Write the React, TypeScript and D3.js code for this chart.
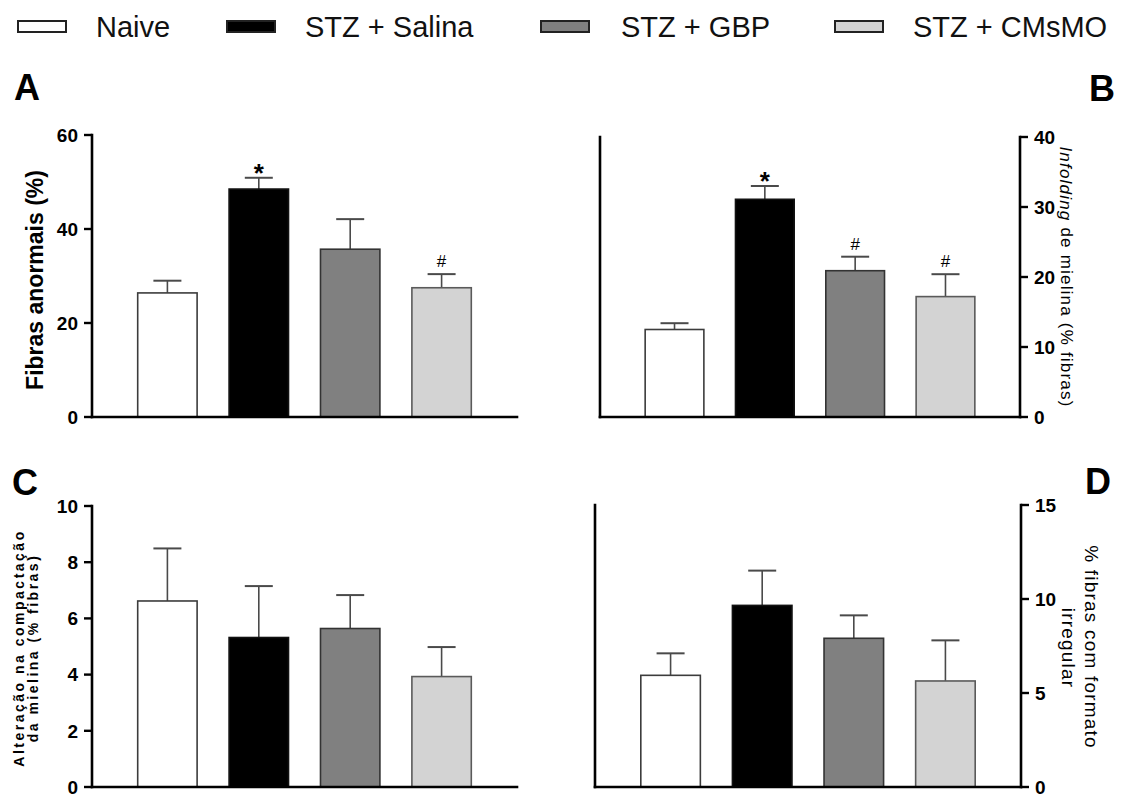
import * as d3 from "d3";

// groups and their colours
const groups = ["Naive", "STZ + Salina", "STZ + GBP", "STZ + CMsMO"];
const fills = ["#ffffff", "#000000", "#808080", "#d3d3d3"];
const strokes = ["#3c3c3c", "#111111", "#333333", "#5a5a5a"];

// panel A - Fibras anormais (%)
const meanA = [26.4, 48.5, 35.7, 27.5];
const semA = [2.6, 2.4, 6.4, 2.9];
const marksA = ["", "*", "", "#"];
const ticksA = [0, 20, 40, 60];

// panel B - Infolding de mielina (% fibras)
const meanB = [12.5, 31.1, 20.9, 17.2];
const semB = [0.9, 1.9, 2.0, 3.2];
const marksB = ["", "*", "#", "#"];
const ticksB = [0, 10, 20, 30, 40];

// panel C - Alteração na compactação da mielina (% fibras)
const meanC = [6.62, 5.32, 5.64, 3.93];
const semC = [1.87, 1.83, 1.19, 1.05];
const marksC = ["", "", "", ""];
const ticksC = [0, 2, 4, 6, 8, 10];

// panel D - % fibras com formato irregular
const meanD = [5.94, 9.66, 7.91, 5.64];
const semD = [1.17, 1.85, 1.22, 2.16];
const marksD = ["", "", "", ""];
const ticksD = [0, 5, 10, 15];

const FONT = "'Liberation Sans', Arial, Helvetica, sans-serif";

// legend layout (swatch x, text x)
const legendSwatchX = [18, 227, 541, 835];
const legendTextX = [96, 305, 621, 913];

type PanelProps = {
  x0: number;
  x1: number;
  yTop: number;
  yBottom: number;
  ticks: number[];
  means: number[];
  sems: number[];
  marks: string[];
  side: "left" | "right";
};

function Panel({ x0, x1, yTop, yBottom, ticks, means, sems, marks, side }: PanelProps) {
  const x = d3
    .scaleBand<string>()
    .domain(groups)
    .range([x0, x1])
    .paddingInner(0.35)
    .paddingOuter(0.5);
  const y = d3
    .scaleLinear()
    .domain([0, d3.max(ticks)!])
    .range([yBottom, yTop]);

  const axisX = side === "left" ? x0 : x1;
  const dir = side === "left" ? -1 : 1;

  return (
    <g>
      {groups.map((g, i) => {
        const bx = x(g)!;
        const bw = x.bandwidth();
        const cx = bx + bw / 2;
        const top = y(means[i]);
        const errTop = y(means[i] + sems[i]);
        const mark = marks[i];
        return (
          <g key={g}>
            <line x1={cx} x2={cx} y1={top} y2={errTop} stroke="#4a4a4a" strokeWidth={1.6} />
            <line x1={cx - 14} x2={cx + 14} y1={errTop} y2={errTop} stroke="#4a4a4a" strokeWidth={2} />
            <rect
              x={bx}
              y={top}
              width={bw}
              height={yBottom - top}
              fill={fills[i]}
              stroke={strokes[i]}
              strokeWidth={1.6}
            />
            {mark === "*" && (
              <text x={cx} y={errTop + 4} textAnchor="middle" fontSize={26} fontWeight="bold" fontFamily={FONT}>
                *
              </text>
            )}
            {mark === "#" && (
              <text x={cx} y={errTop - 7} textAnchor="middle" fontSize={17} fontFamily={FONT}>
                #
              </text>
            )}
          </g>
        );
      })}

      {/* axes */}
      <line x1={x0} x2={x1} y1={yBottom} y2={yBottom} stroke="#000" strokeWidth={2.6} strokeLinecap="square" />
      <line x1={axisX} x2={axisX} y1={yTop} y2={yBottom} stroke="#000" strokeWidth={2.6} strokeLinecap="square" />
      {side === "right" && (
        <line x1={x0} x2={x0} y1={yTop} y2={yBottom} stroke="#000" strokeWidth={2.6} strokeLinecap="square" />
      )}
      {ticks.map((t) => (
        <g key={t}>
          <line x1={axisX} x2={axisX + dir * 8} y1={y(t)} y2={y(t)} stroke="#000" strokeWidth={2.4} />
          <text
            x={axisX + dir * 14}
            y={y(t)}
            dy="0.36em"
            textAnchor={side === "left" ? "end" : "start"}
            fontSize={19}
            fontWeight="bold"
            fontFamily={FONT}
          >
            {t}
          </text>
        </g>
      ))}
    </g>
  );
}

export default function App() {
  return (
    <svg width={1124} height={796} style={{ position: "absolute", left: 0, top: 0, background: "#fff" }}>
      {/* legend */}
      {groups.map((g, i) => (
        <g key={g}>
          <rect x={legendSwatchX[i]} y={21} width={48} height={11} fill={fills[i]} stroke="#222" strokeWidth={2} />
          <text x={legendTextX[i]} y={37} fontSize={29} fontFamily={FONT} fill="#111">
            {g}
          </text>
        </g>
      ))}

      {/* panel letters */}
      <g fontFamily={FONT} fontWeight="bold" fontSize={36}>
        <text x={14} y={100}>A</text>
        <text x={1089} y={101}>B</text>
        <text x={12} y={495}>C</text>
        <text x={1085} y={494}>D</text>
      </g>

      <Panel x0={92} x1={517} yTop={135} yBottom={417} ticks={ticksA} means={meanA} sems={semA} marks={marksA} side="left" />
      <Panel x0={600} x1={1020} yTop={137} yBottom={417} ticks={ticksB} means={meanB} sems={semB} marks={marksB} side="right" />
      <Panel x0={92} x1={517} yTop={506} yBottom={787} ticks={ticksC} means={meanC} sems={semC} marks={marksC} side="left" />
      <Panel x0={595} x1={1021} yTop={505} yBottom={787} ticks={ticksD} means={meanD} sems={semD} marks={marksD} side="right" />

      {/* y axis labels */}
      <text
        transform="translate(35,280) rotate(-90)"
        textAnchor="middle"
        dominantBaseline="central"
        fontSize={23}
        fontWeight="bold"
        fontFamily={FONT}
      >
        Fibras anormais (%)
      </text>

      <g fontSize={14} fontWeight="bold" fontFamily={FONT} letterSpacing={2.5} textAnchor="middle">
        <text transform="translate(19,648) rotate(-90)" dominantBaseline="central">
          Alteração na compactação
        </text>
        <text transform="translate(33,648) rotate(-90)" dominantBaseline="central">
          da mielina (% fibras)
        </text>
      </g>

      <text
        transform="translate(1066,277) rotate(90)"
        textAnchor="middle"
        dominantBaseline="central"
        fontSize={17}
        letterSpacing={1.2}
        fontFamily={FONT}
      >
        <tspan fontStyle="italic">Infolding</tspan> de mielina (% fibras)
      </text>

      <g fontSize={19} letterSpacing={1.2} fontFamily={FONT} textAnchor="middle">
        <text transform="translate(1091,647) rotate(90)" dominantBaseline="central">
          % fibras com formato
        </text>
        <text transform="translate(1068,648) rotate(90)" dominantBaseline="central">
          irregular
        </text>
      </g>
    </svg>
  );
}
